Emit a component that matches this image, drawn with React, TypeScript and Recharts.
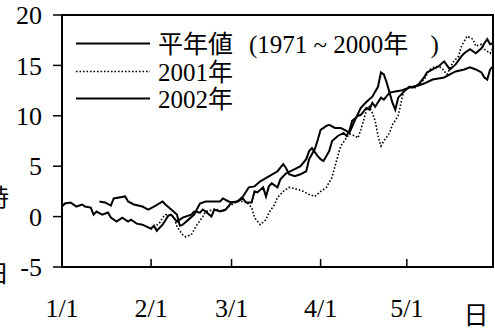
import React from 'react';
import { LineChart, Line, XAxis, YAxis, Legend, ReferenceArea } from 'recharts';

const FONT = '"Liberation Serif", "Noto Sans CJK JP", serif';

// Day of year (0 = 1/1) and temperature readings for each series
const normalDays = [0, 1, 3, 5, 7, 8, 10, 11, 12, 14, 16, 17, 19, 21, 23, 24, 26, 28, 31, 32, 33, 35, 37, 38, 40, 42, 45, 46, 48, 49, 50, 52, 53, 55, 57, 59, 61, 63, 64, 66, 67, 68, 70, 71, 72, 73, 75, 76, 78, 81, 83, 85, 86, 87, 89, 90, 91, 93, 94, 96, 98, 99, 100, 101, 103, 104, 106, 107, 108, 109, 111, 112, 114, 116, 118, 121, 124, 126, 129, 131, 133, 135, 137, 140, 142, 144, 146, 147, 148, 149, 150];
const normalValues = [1.0, 1.3, 1.4, 1.0, 1.2, 1.0, 0.9, 0.2, 0.5, 0.2, 0.4, -0.1, -0.5, -0.1, -0.5, -0.3, -0.7, -0.8, -1.2, -0.9, -1.4, -0.8, 0.1, 0.2, -0.5, -0.1, 0.2, 0.5, 0.4, 0.7, 0.5, 0.0, 0.7, 0.5, 0.7, 1.4, 1.5, 1.8, 1.4, 1.4, 2.5, 2.4, 2.9, 2.0, 3.0, 3.3, 2.9, 3.7, 4.3, 4.7, 5.0, 5.7, 6.5, 6.8, 6.0, 5.7, 5.5, 6.5, 7.5, 8.0, 8.3, 8.0, 8.5, 9.5, 10.0, 10.1, 10.8, 10.6, 11.3, 10.9, 11.8, 11.6, 12.3, 12.4, 12.5, 12.8, 13.0, 13.2, 13.6, 13.7, 13.8, 14.1, 14.4, 14.6, 14.8, 14.6, 14.3, 13.8, 13.6, 14.6, 14.9];

const y2001Days = [32, 34, 35, 36, 38, 39, 40, 42, 43, 45, 47, 49, 50, 53, 54, 56, 58, 61, 63, 64, 66, 67, 69, 71, 72, 74, 75, 77, 79, 82, 84, 86, 88, 90, 92, 94, 95, 96, 97, 99, 100, 102, 103, 104, 106, 107, 108, 109, 110, 111, 112, 114, 115, 117, 118, 119, 121, 123, 126, 128, 130, 132, 134, 136, 138, 139, 141, 143, 144, 146, 147, 149, 150];
const y2001Values = [-1.1, -0.6, -0.1, 0.2, 0.1, -0.1, -1.0, -1.8, -2.0, -1.8, -0.8, 0.0, 0.5, 0.7, 0.7, 0.5, 1.0, 1.5, 1.5, 1.5, 0.9, -0.1, -0.8, -0.3, 0.4, 1.2, 1.9, 2.5, 2.9, 2.7, 2.5, 2.2, 2.0, 2.5, 2.9, 3.9, 5.0, 6.0, 7.0, 7.8, 8.2, 8.0, 7.8, 8.6, 10.6, 10.9, 10.3, 9.5, 8.0, 7.0, 7.5, 8.3, 9.1, 10.0, 11.3, 12.6, 12.9, 12.8, 13.6, 14.6, 14.9, 14.8, 14.1, 15.3, 15.9, 16.9, 17.9, 17.6, 16.9, 17.1, 16.6, 16.2, 16.7];

const y2002Days = [13, 15, 17, 18, 22, 23, 25, 28, 30, 32, 35, 36, 38, 40, 41, 42, 44, 46, 48, 50, 53, 55, 56, 58, 59, 61, 63, 65, 67, 69, 72, 75, 77, 78, 79, 81, 83, 85, 86, 88, 89, 90, 92, 93, 95, 97, 99, 100, 102, 104, 106, 108, 110, 111, 112, 113, 114, 115, 116, 117, 119, 121, 122, 124, 126, 127, 129, 131, 133, 134, 135, 137, 139, 140, 142, 144, 146, 147, 148, 149, 150];
const y2002Values = [1.5, 1.4, 1.1, 1.8, 2.0, 1.5, 1.2, 1.0, 0.7, 1.0, 1.5, 1.2, 0.7, 0.2, -0.9, -0.8, -0.3, 0.2, 1.3, 1.5, 1.5, 1.5, 1.8, 1.5, 1.4, 1.5, 2.0, 2.9, 3.0, 3.5, 4.0, 4.5, 5.2, 4.8, 4.2, 4.0, 4.2, 4.5, 5.7, 6.7, 7.6, 8.6, 9.0, 9.1, 8.8, 8.8, 8.5, 8.3, 9.6, 10.8, 11.4, 11.9, 12.9, 14.3, 14.1, 13.3, 12.3, 11.3, 10.6, 11.8, 12.4, 12.9, 12.8, 13.1, 13.8, 14.3, 14.6, 14.9, 15.4, 15.0, 14.6, 15.1, 15.9, 16.2, 16.6, 16.2, 16.7, 17.2, 17.6, 17.1, 17.2];

// Legend labels, split where the wider gaps fall
const seriesNameParts = [['平年値', '(1971 ~ 2000年', ')'], ['2001年'], ['2002年']];
const seriesNames = seriesNameParts.map((parts) => parts.join(' '));
const seriesDashes = ['', '1.6 1.9', ''];
const partGaps = [0, 16, 22];

const xTickDays = [0, 31, 59, 90, 120];
const xTickLabels = ['1/1', '2/1', '3/1', '4/1', '5/1'];
const yTicks = [-5, 0, 5, 10, 15, 20];
const xUnit = '日';
const sideLabelChars = ['時', '、', '日', '、'];

const toPoints = (days: number[], values: number[]) =>
  days.map((day, i) => ({ day, value: values[i] }));

const seriesData = [
  toPoints(normalDays, normalValues),
  toPoints(y2001Days, y2001Values),
  toPoints(y2002Days, y2002Values),
];

const DateTick = (props: any) => {
  const { x, y, payload } = props;
  const idx = xTickDays.indexOf(payload.value);
  return (
    <g>
      <line x1={x} y1={y} x2={x} y2={y - 8} stroke="#000" strokeWidth={1.5} />
      <text x={x} y={y + 50} textAnchor="middle" fontSize={26} fontFamily={FONT} fill="#000">
        {xTickLabels[idx]}
      </text>
    </g>
  );
};

const UnitLabel = () => (
  <text x={476} y={324} textAnchor="middle" fontSize={25} fontFamily={FONT} fill="#000">
    {xUnit}
  </text>
);

const SideLabel = () => (
  <g>
    {sideLabelChars.map((ch, i) => (
      <text key={i} x={9} y={[206, 236, 282, 318][i]} textAnchor="end" fontSize={24} fontFamily={FONT} fill="#000">
        {ch}
      </text>
    ))}
  </g>
);

const legendLineY = [43.5, 71.5, 98.5];
const legendTextY = [52.5, 81, 107.5];

const LegendBox = () => (
  <svg width={495} height={120} style={{ display: 'block', overflow: 'visible' }}>
    {seriesNameParts.map((parts, i) => (
      <g key={i}>
        <line
          x1={76}
          x2={150}
          y1={legendLineY[i]}
          y2={legendLineY[i]}
          stroke="#000"
          strokeWidth={seriesDashes[i] ? 1.5 : 2}
          strokeDasharray={seriesDashes[i] || undefined}
        />
        <text x={158} y={legendTextY[i]} fontSize={25} fontFamily={FONT} fill="#000">
          {parts.map((p, j) => (
            <tspan key={j} dx={partGaps[j]}>
              {p}
            </tspan>
          ))}
        </text>
      </g>
    ))}
  </svg>
);

export default function App() {
  return (
    <div style={{ position: 'absolute', left: 0, top: 0, width: 495, height: 331, background: '#fff' }}>
      <LineChart width={495} height={331} margin={{ top: 15, right: 2, bottom: 0, left: 0 }}>
        <XAxis
          dataKey="day"
          type="number"
          domain={[0, 150]}
          ticks={xTickDays}
          interval={0}
          height={64}
          tickSize={0}
          tickMargin={0}
          tickLine={false}
          axisLine={{ stroke: '#000', strokeWidth: 2 }}
          tick={<DateTick />}
          label={<UnitLabel />}
          allowDataOverflow
        />
        <YAxis
          type="number"
          domain={[-5, 20]}
          ticks={yTicks}
          interval={0}
          width={62}
          tickSize={9}
          tickMargin={11}
          axisLine={{ stroke: '#000', strokeWidth: 2 }}
          tickLine={{ stroke: '#000', strokeWidth: 1.5 }}
          tick={{ fill: '#000', fontSize: 26, fontFamily: FONT }}
          label={<SideLabel />}
          allowDataOverflow
        />
        <ReferenceArea x1={0} x2={150} y1={-5} y2={20} fill="none" stroke="#000" strokeWidth={2} />
        {seriesData.map((points, i) => (
          <Line
            key={seriesNames[i]}
            data={points}
            dataKey="value"
            name={seriesNames[i]}
            type="linear"
            stroke="#000"
            strokeWidth={seriesDashes[i] ? 1.6 : 2}
            strokeDasharray={seriesDashes[i] || undefined}
            dot={false}
            activeDot={false}
            isAnimationActive={false}
          />
        ))}
        <Legend
          layout="vertical"
          align="center"
          verticalAlign="middle"
          wrapperStyle={{ position: 'absolute', left: 0, top: 0, width: 495, height: 120 }}
          content={() => <LegendBox />}
        />
      </LineChart>
    </div>
  );
}
